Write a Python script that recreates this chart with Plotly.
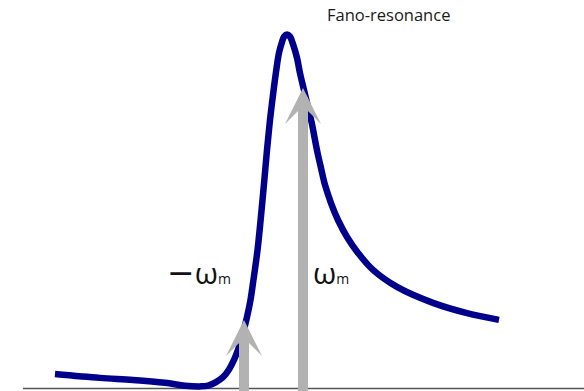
import plotly.graph_objects as go

# Fano line shape: detuning (in units of omega_m) vs. normalised response
detuning = [-7.407, -5.881, -4.763, -3.678, -3.000, -2.492, -2.220, -1.949, -1.712,
            -1.508, -1.339, -1.203, -1.068, -0.898, -0.780, -0.695, -0.542, -0.373,
            -0.220, -0.119, -0.017, 0.085, 0.186, 0.288, 0.356, 0.458, 0.559,
            0.661, 0.797, 0.898, 1.034, 1.169, 1.305, 1.407, 1.508, 1.610, 1.746,
            1.949, 2.186, 2.492, 2.864, 3.373, 4.186, 5.407, 6.559, 7.644]
response = [0.041, 0.030, 0.024, 0.016, 0.008, 0.006, 0.008, 0.018, 0.032,
            0.054, 0.081, 0.109, 0.145, 0.202, 0.250, 0.298, 0.391, 0.532,
            0.674, 0.758, 0.829, 0.894, 0.948, 0.979, 0.994, 1.000, 0.994,
            0.973, 0.934, 0.891, 0.843, 0.795, 0.747, 0.702, 0.660, 0.623, 0.575,
            0.524, 0.476, 0.428, 0.383, 0.335, 0.287, 0.242, 0.213, 0.194]

# sidebands at -omega_m and +omega_m
arrow_pos = [-1.0, 1.0]
arrow_height = [0.1935, 0.849]
arrow_labels = ["<span style='font-family:DejaVu Sans;font-size:33px'>\u2212</span>\u03c9<span style='font-size:14px'>m</span>",
                "\u03c9<span style='font-size:14px'>m</span>"]

baseline_x = [-8.4915, 10.6]
baseline_y = [0.0, 0.0]

title_text = "Fano-resonance"

NAVY = "#00008b"
GREY = "#b2b2b2"

fig = go.Figure()

fig.add_trace(go.Scatter(x=baseline_x, y=baseline_y, mode="lines",
                         line=dict(color="#555555", width=1.6),
                         hoverinfo="skip", showlegend=False))

fig.add_trace(go.Scatter(x=detuning, y=response, mode="lines",
                         line=dict(color=NAVY, width=6.5, shape="spline", smoothing=1.0),
                         hoverinfo="skip", showlegend=False))

for xp, h in zip(arrow_pos, arrow_height):
    fig.add_annotation(x=xp, y=h, ax=xp, ay=-0.05, xref="x", yref="y",
                       axref="x", ayref="y", text="", showarrow=True,
                       arrowhead=3, arrowwidth=10, arrowsize=0.6,
                       arrowcolor=GREY, font=dict(size=1))

fig.add_annotation(x=-1.37, y=0.329, xref="x", yref="y", text=arrow_labels[0],
                   showarrow=False, xanchor="right", yanchor="middle",
                   font=dict(family="Open Sans", size=30, color="#111111"))
fig.add_annotation(x=1.27, y=0.329, xref="x", yref="y", text=arrow_labels[1],
                   showarrow=False, xanchor="left", yanchor="middle",
                   font=dict(family="Open Sans", size=30, color="#111111"))

fig.add_annotation(x=325 / 584, y=1 - 14.5 / 391, xref="paper", yref="paper",
                   text=title_text, showarrow=False, xanchor="left", yanchor="middle",
                   font=dict(family="Open Sans", size=16.5, color="#1a1a1a"))

fig.update_layout(
    width=584, height=391,
    margin=dict(l=0, r=0, t=0, b=0),
    paper_bgcolor="white", plot_bgcolor="white",
    xaxis=dict(range=[-9.2712, 10.5254], visible=False, fixedrange=True),
    yaxis=dict(range=[-0.00706, 1.0975], visible=False, fixedrange=True),
    showlegend=False,
)

fig.write_html("out.html")
